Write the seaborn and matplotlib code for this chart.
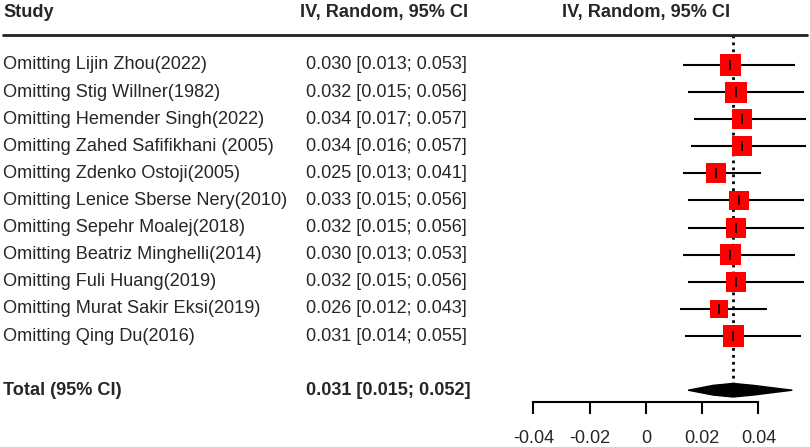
import numpy as np
import pandas as pd
import matplotlib
matplotlib.use("Agg")
import matplotlib.pyplot as plt
import seaborn as sns

studies = ["Omitting Lijin Zhou(2022)", "Omitting Stig Willner(1982)",
           "Omitting Hemender Singh(2022)", "Omitting Zahed Safifikhani (2005)",
           "Omitting Zdenko Ostoji(2005)", "Omitting Lenice Sberse Nery(2010)",
           "Omitting Sepehr Moalej(2018)", "Omitting Beatriz Minghelli(2014)",
           "Omitting Fuli Huang(2019)", "Omitting Murat Sakir Eksi(2019)",
           "Omitting Qing Du(2016)"]
est = [0.030, 0.032, 0.034, 0.034, 0.025, 0.033, 0.032, 0.030, 0.032, 0.026, 0.031]
lo = [0.013, 0.015, 0.017, 0.016, 0.013, 0.015, 0.015, 0.013, 0.015, 0.012, 0.014]
hi = [0.053, 0.056, 0.057, 0.057, 0.041, 0.056, 0.056, 0.053, 0.056, 0.043, 0.055]
weights = [21, 21, 20, 20, 20, 20, 20, 21, 20, 19, 21]
total_label = "Total (95% CI)"
total_est, total_lo, total_hi = 0.031, 0.015, 0.052
ticks = [-0.04, -0.02, 0, 0.02, 0.04]
tick_labels = ["-0.04", "-0.02", "0", "0.02", "0.04"]

df = pd.DataFrame({"study": studies, "est": est, "lo": lo, "hi": hi,
                   "w": weights, "row": np.arange(1, len(studies) + 1)})
total_row = len(studies) + 2

sns.set_theme(style="white")
plt.rcParams["font.family"] = ["Liberation Sans", "DejaVu Sans"]
fs = 13.1

fig = plt.figure(figsize=(8.1, 4.47), dpi=100)
ax = fig.add_axes([0, 1 - 402 / 447, 1, 402 / 447])
ax.set_xlim(-0.2295, 0.0583)
ax.set_ylim(13.435, -1.398)

# CI lines, boxes, centre ticks
ax.hlines(df["row"], df["lo"], df["hi"], color="black", lw=1.5, zorder=2)
sns.scatterplot(data=df, x="est", y="row", size="w", sizes=(180, 230),
                marker="s", color="#ff0000", edgecolor="none", legend=False,
                ax=ax, zorder=3)
ax.scatter(df["est"], df["row"], marker="|", s=50, color="black", lw=1.2, zorder=4)

# pooled estimate
ax.vlines(total_est, -0.1, total_row, colors="black", linestyles=(0, (1, 1.5)), lw=2, zorder=1)
h = 0.25
ax.fill([total_lo, total_est - 0.007, total_est, total_est + 0.007, total_hi,
         total_est + 0.007, total_est, total_est - 0.007],
        [total_row, total_row - 0.18, total_row - h, total_row - 0.18, total_row,
         total_row + 0.18, total_row + h, total_row + 0.18], color="black", zorder=3)

# header
ax.axhline(-0.1, xmin=0.004, xmax=0.996, color="#222222", lw=2)
tr = ax.get_yaxis_transform()
ax.text(0.004, -0.95, "Study", transform=tr, fontsize=fs, fontweight="bold", va="center")
ax.text(0.370, -0.95, "IV, Random, 95% CI", transform=tr, fontsize=fs, fontweight="bold", va="center")
ax.text(0, -0.95, "IV, Random, 95% CI", fontsize=fs, fontweight="bold", va="center", ha="center")

for s, e, l, u, r in zip(studies, est, lo, hi, df["row"]):
    ax.text(0.004, r, s, transform=tr, fontsize=fs, va="center")
    ax.text(0.378, r, f"{e:.3f} [{l:.3f}; {u:.3f}]", transform=tr, fontsize=fs, va="center")
ax.text(0.004, total_row, total_label, transform=tr, fontsize=fs, fontweight="bold", va="center")
ax.text(0.378, total_row, f"{total_est:.3f} [{total_lo:.3f}; {total_hi:.3f}]",
        transform=tr, fontsize=fs, fontweight="bold", va="center")

# axis
for side in ["top", "right", "left"]:
    ax.spines[side].set_visible(False)
ax.spines["bottom"].set_bounds(ticks[0], ticks[-1])
ax.spines["bottom"].set_color("black")
ax.spines["bottom"].set_linewidth(1.5)
ax.set_xticks(ticks)
ax.set_xticklabels(tick_labels)
ax.set_yticks([])
ax.set_xlabel("")
ax.set_ylabel("")
ax.tick_params(axis="x", direction="out", length=8.5, width=1.5, color="black",
               labelsize=fs, pad=12, bottom=True)

fig.savefig("out.png", dpi=100)
